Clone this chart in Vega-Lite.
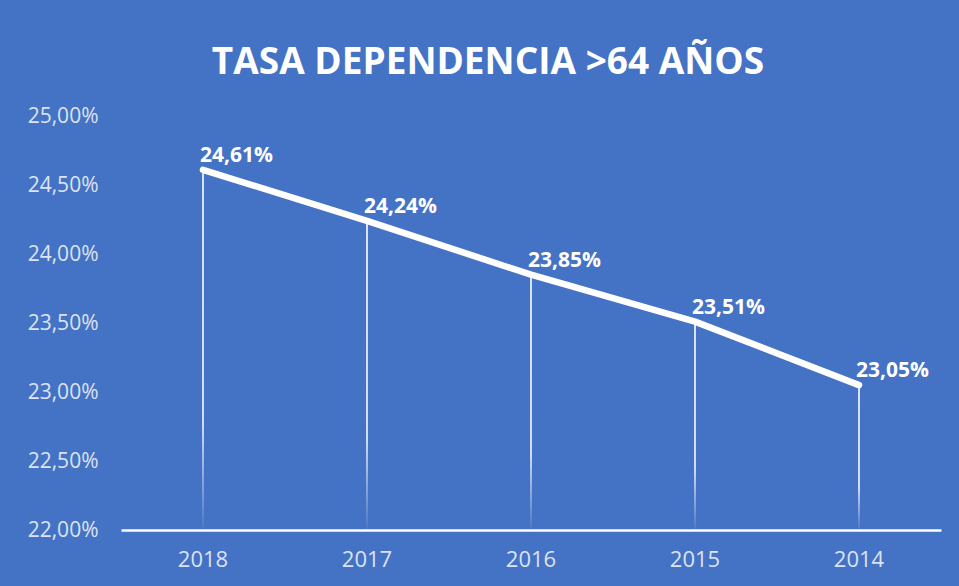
{
  "$schema": "https://vega.github.io/schema/vega-lite/v6.json",
  "width": 820,
  "height": 414,
  "autosize": {"type": "none"},
  "padding": {"left": 121, "top": 116, "right": 18, "bottom": 56},
  "background": "#4472C4",
  "title": {
    "text": "TASA DEPENDENCIA >64 AÑOS",
    "color": "white",
    "font": "Open Sans",
    "fontSize": 37,
    "fontWeight": "bold",
    "anchor": "middle",
    "dx": -43,
    "baseline": "bottom",
    "offset": -14
  },
  "config": {
    "locale": {
      "number": {"decimal": ",", "thousands": ".", "grouping": [3], "currency": ["", " €"]}
    },
    "view": {"stroke": null},
    "axis": {"grid": false, "ticks": false, "labelFont": "Open Sans", "labelColor": "#DCE3F2", "title": null}
  },
  "data": {
    "values": [
      {"anio": "2018", "tasa": 0.2461},
      {"anio": "2017", "tasa": 0.2424},
      {"anio": "2016", "tasa": 0.2385},
      {"anio": "2015", "tasa": 0.2351},
      {"anio": "2014", "tasa": 0.2305}
    ]
  },
  "encoding": {
    "x": {
      "field": "anio",
      "type": "ordinal",
      "sort": "descending",
      "scale": {"paddingInner": 0, "paddingOuter": 0},
      "axis": {
        "labelAngle": 0,
        "labelFontSize": 22,
        "labelPadding": 19,
        "domainColor": "white",
        "domainWidth": 2.5
      }
    }
  },
  "layer": [
    {
      "mark": {
        "type": "bar",
        "width": 1.6,
        "color": {
          "gradient": "linear",
          "x1": 0, "y1": 0, "x2": 0, "y2": 1,
          "stops": [
            {"offset": 0, "color": "rgba(255,255,255,1)"},
            {"offset": 0.7, "color": "rgba(255,255,255,0.95)"},
            {"offset": 1, "color": "rgba(255,255,255,0.05)"}
          ]
        }
      },
      "encoding": {
        "y": {
          "field": "tasa",
          "type": "quantitative",
          "scale": {"domain": [0.22, 0.25], "zero": false, "nice": false},
          "axis": {
            "values": [0.22, 0.225, 0.23, 0.235, 0.24, 0.245, 0.25],
            "format": ".2%",
            "labelFontSize": 21,
            "labelPadding": 23,
            "domain": false
          }
        },
        "y2": {"datum": 0.22}
      }
    },
    {
      "mark": {"type": "line", "color": "white", "strokeWidth": 6.5, "strokeCap": "round", "strokeJoin": "round"},
      "encoding": {
        "y": {"field": "tasa", "type": "quantitative"}
      }
    },
    {
      "mark": {
        "type": "text",
        "color": "white",
        "font": "Open Sans",
        "fontWeight": "bold",
        "fontSize": 21,
        "align": "left",
        "baseline": "middle",
        "dx": -3,
        "dy": -14
      },
      "encoding": {
        "y": {"field": "tasa", "type": "quantitative"},
        "text": {"field": "tasa", "type": "quantitative", "format": ".2%"}
      }
    }
  ]
}
